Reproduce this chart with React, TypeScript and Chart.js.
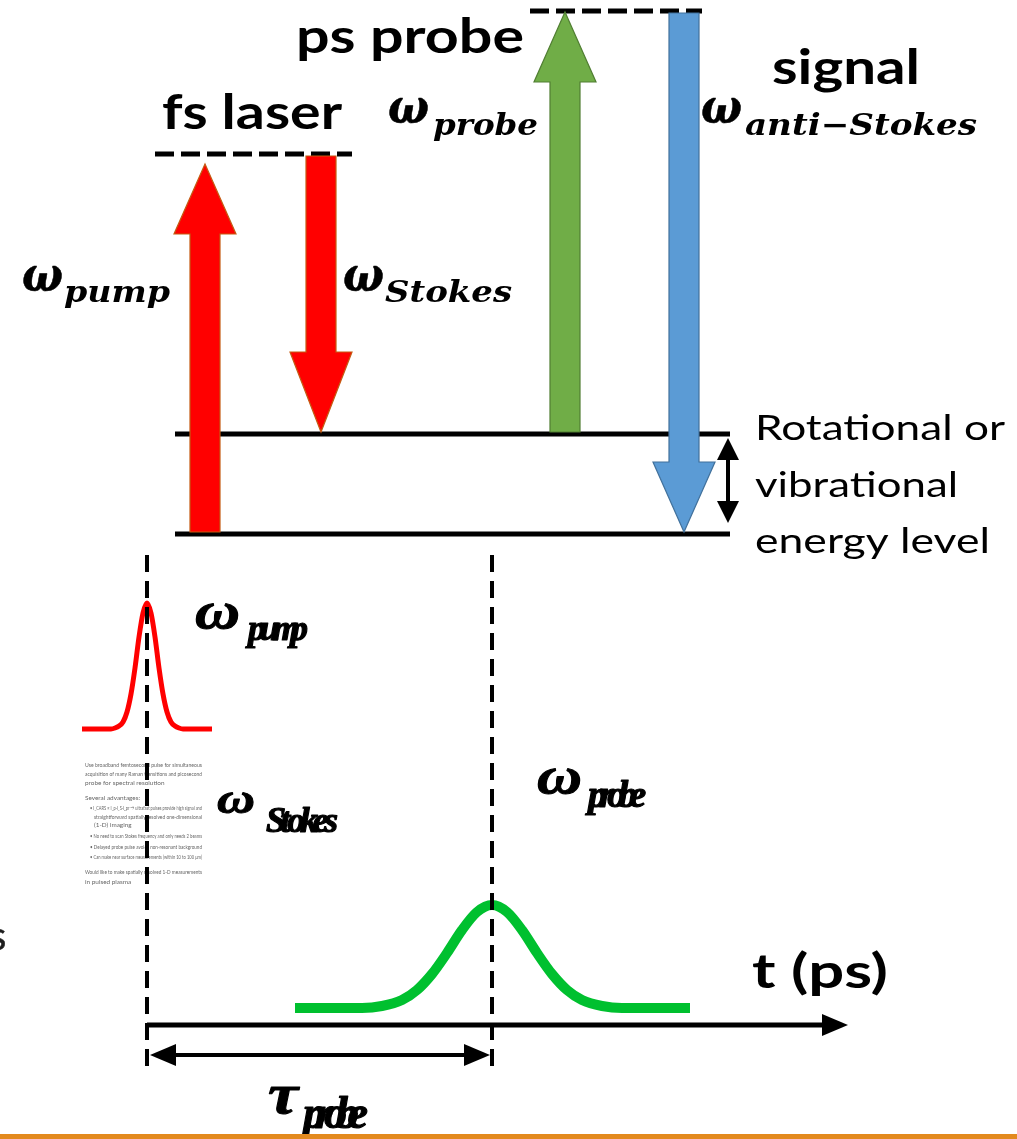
import React, { useEffect, useRef } from 'react';
import { Chart, registerables } from 'chart.js';

Chart.register(...registerables);

const W = 1017;
const H = 1139;

// Energy levels of the molecule (diagram units, y grows downward)
const levelY = [534, 434];
const levelStart = 175;
const levelEnd = 730;

// Virtual levels reached by the fs pump and by the ps probe
const virtualY = [154, 11];
const virtualStart = [155, 530];
const virtualEnd = [352, 702];

// Beams of the energy diagram: x position, start level, end level
const beamNames = ['pump', 'Stokes', 'probe', 'anti\u2212Stokes'];
const beamX = [205, 321, 565, 684];
const beamFrom = [532, 156, 432, 13];
const beamTo = [164, 432, 12, 532];

// Timing diagram
const pumpTime = 147;
const probeTime = 492;
const markerTop = 555;
const markerBottom = 1070;
const timeAxisY = 1025;
const timeAxisEnd = 848;
const delayY = 1055;

// Sampled pump pulse envelope (fs)
const pumpPulseX = [82, 111, 115, 119, 123, 127, 131, 135, 139, 143, 147, 151, 155, 159, 163, 167, 171, 175, 179, 183, 212];
const pumpPulseY = [729, 729, 728, 726, 722, 712, 694, 668, 637, 613, 603, 613, 637, 668, 694, 712, 722, 726, 728, 729, 729];

// Sampled probe pulse envelope (ps)
const probePulseX = [295, 362, 382, 402, 417, 432, 447, 462, 477, 492, 507, 522, 537, 552, 567, 582, 602, 622, 690];
const probePulseY = [1008, 1008, 1006, 1000, 990, 974, 953, 930, 912, 905, 912, 930, 953, 974, 990, 1000, 1006, 1008, 1008];

// Slide notes printed under the pump pulse
const noteLines = [
  'Use broadband femtosecond pulse for simultaneous',
  'acquisition of many Raman transitions and picosecond',
  'probe for spectral resolution',
  'Several advantages:',
  '\u2022 I_CARS \u221D I_p\u00B7I_S\u00B7I_pr \u2192 ultrafast pulses provide high signal and',
  'straightforward spatially resolved one-dimensional',
  '(1-D) imaging',
  '\u2022 No need to scan Stokes frequency and only needs 2 beams',
  '\u2022 Delayed probe pulse avoids non-resonant background',
  '\u2022 Can make near surface measurements (within 10 to 100 \u03BCm)',
  'Would like to make spatially resolved 1-D measurements',
  'in pulsed plasma',
];

const BEAM_FILL = ['#FF0000', '#FF0000', '#70AD47', '#5B9BD5'];
const BEAM_EDGE = ['#C55A11', '#C55A11', '#507E32', '#41719C'];

const pts = (xs: number[], ys: number[]) => xs.map((x, i) => ({ x, y: ys[i] }));

function fitText(
  ctx: CanvasRenderingContext2D,
  text: string,
  font: string,
  left: number,
  baseline: number,
  width: number,
  color: string,
  stroke = 0,
) {
  ctx.font = font;
  const natural = ctx.measureText(text).width;
  const sx = width > 0 ? width / natural : 1;
  ctx.save();
  ctx.translate(left, baseline);
  ctx.scale(sx, 1);
  ctx.fillStyle = color;
  ctx.fillText(text, 0, 0);
  if (stroke > 0) {
    ctx.lineWidth = stroke;
    ctx.strokeStyle = color;
    ctx.lineJoin = 'round';
    ctx.strokeText(text, 0, 0);
  }
  ctx.restore();
}

// Letters packed tightly so that they overlap, fitted into a given width
function packedText(
  ctx: CanvasRenderingContext2D,
  text: string,
  font: string,
  left: number,
  baseline: number,
  width: number,
  color: string,
  stroke = 0,
) {
  ctx.font = font;
  const chars = Array.from(text);
  const widths = chars.map((c) => ctx.measureText(c).width);
  const last = widths[widths.length - 1];
  const lead = widths.slice(0, -1).reduce((a, b) => a + b, 0);
  const k = lead > 0 ? (width - last) / lead : 1;
  let x = left;
  ctx.save();
  ctx.fillStyle = color;
  ctx.strokeStyle = color;
  ctx.lineWidth = stroke;
  ctx.lineJoin = 'round';
  chars.forEach((c, i) => {
    ctx.fillText(c, x, baseline);
    if (stroke > 0) ctx.strokeText(c, x, baseline);
    x += widths[i] * k;
  });
  ctx.restore();
}

function triangle(
  ctx: CanvasRenderingContext2D,
  tipX: number,
  tipY: number,
  dx: number,
  dy: number,
  len: number,
  half: number,
  color: string,
) {
  const bx = tipX - dx * len;
  const by = tipY - dy * len;
  ctx.beginPath();
  ctx.moveTo(tipX, tipY);
  ctx.lineTo(bx - dy * half, by + dx * half);
  ctx.lineTo(bx + dy * half, by - dx * half);
  ctx.closePath();
  ctx.fillStyle = color;
  ctx.fill();
}

const notesPlugin = {
  id: 'slideNotes',
  beforeDatasetsDraw(chart: any) {
    const { ctx, scales } = chart;
    const sx = (v: number) => scales.x.getPixelForValue(v);
    const sy = (v: number) => scales.y.getPixelForValue(v);
    const lineY = [767, 776, 785, 800, 810, 819, 827, 838, 849, 859, 874, 884];
    const indent = [0, 0, 0, 0, 5, 9, 9, 5, 5, 5, 0, 0];
    ctx.save();
    ctx.filter = 'blur(0.7px)';
    noteLines.forEach((t, i) => {
      const full = t.length > 40;
      fitText(
        ctx,
        t,
        '6.4px Lato',
        sx(85 + indent[i]),
        sy(lineY[i]),
        full ? 117 - indent[i] : 0,
        '#666666',
      );
    });
    ctx.restore();
  },
};

const diagramPlugin = {
  id: 'diagramMarks',
  afterDatasetsDraw(chart: any) {
    const { ctx, scales } = chart;
    const sx = (v: number) => scales.x.getPixelForValue(v);
    const sy = (v: number) => scales.y.getPixelForValue(v);

    // Block arrows of the beams
    const shaftHalf = 15;
    const headHalf = 31;
    const headLen = [70, 80, 70, 70];
    beamX.forEach((bx, i) => {
      const x = sx(bx);
      const y0 = sy(beamFrom[i]);
      const y1 = sy(beamTo[i]);
      const dir = Math.sign(y1 - y0);
      const yb = y1 - dir * headLen[i];
      ctx.save();
      ctx.beginPath();
      ctx.moveTo(x - shaftHalf, y0);
      ctx.lineTo(x - shaftHalf, yb);
      ctx.lineTo(x - headHalf, yb);
      ctx.lineTo(x, y1);
      ctx.lineTo(x + headHalf, yb);
      ctx.lineTo(x + shaftHalf, yb);
      ctx.lineTo(x + shaftHalf, y0);
      ctx.closePath();
      ctx.fillStyle = BEAM_FILL[i];
      ctx.fill();
      ctx.lineWidth = 1.2;
      ctx.strokeStyle = BEAM_EDGE[i];
      ctx.stroke();
      ctx.restore();
    });

    // Arrow heads of the level spacing, time axis and delay
    triangle(ctx, sx(728), sy(438), 0, -1, 22, 11, '#000');
    triangle(ctx, sx(728), sy(523), 0, 1, 22, 11, '#000');
    triangle(ctx, sx(timeAxisEnd), sy(timeAxisY), 1, 0, 26, 11, '#000');
    triangle(ctx, sx(pumpTime + 3), sy(delayY), -1, 0, 26, 11, '#000');
    triangle(ctx, sx(probeTime - 2), sy(delayY), 1, 0, 26, 11, '#000');

    // Bold captions
    const bold = (s: number) => `bold ${s}px Lato`;
    fitText(ctx, 'fs laser', bold(48), sx(162), sy(129), 180, '#000');
    fitText(ctx, 'ps probe', bold(48), sx(296), sy(53), 228, '#000');
    fitText(ctx, 'signal', bold(48), sx(772), sy(84), 148, '#000');
    fitText(ctx, 't (ps)', bold(48), sx(752), sy(988), 136, '#000');

    // Level annotation
    const reg = '34px Lato';
    fitText(ctx, 'Rotational or', reg, sx(755), sy(440), 250, '#000');
    fitText(ctx, 'vibrational', reg, sx(755), sy(497), 203, '#000');
    fitText(ctx, 'energy level', reg, sx(755), sy(553), 235, '#000');

    // Beam frequencies in the energy diagram
    const omega = 'bold italic 48px "DejaVu Serif"';
    const sub = 'bold italic 30px "DejaVu Serif"';
    const topLabels = [
      { w: 22, s: 64, sw: 106, wb: 291, sb: 302 },
      { w: 343, s: 385, sw: 127, wb: 291, sb: 302 },
      { w: 388, s: 433, sw: 105, wb: 123, sb: 135 },
      { w: 701, s: 745, sw: 232, wb: 123, sb: 135 },
    ];
    topLabels.forEach((l, i) => {
      fitText(ctx, '\u03C9', omega, sx(l.w), sy(l.wb), 41, '#000', 0.6);
      fitText(ctx, beamNames[i], sub, sx(l.s), sy(l.sb), l.sw, '#000');
    });

    // Pulse labels of the timing diagram
    const serif = (s: number) => `bold italic ${s}px "Liberation Serif"`;
    fitText(ctx, '\u03C9', serif(52), sx(195), sy(628), 45, '#000', 1);
    packedText(ctx, beamNames[0], serif(36), sx(248), sy(640), 60, '#000', 1.2);
    fitText(ctx, '\u03C9', serif(42), sx(217), sy(813), 38, '#000', 1);
    packedText(ctx, beamNames[1], serif(36), sx(266), sy(832), 72, '#000', 1.2);
    fitText(ctx, '\u03C9', serif(52), sx(537), sy(793), 45, '#000', 1);
    packedText(ctx, beamNames[2], serif(38), sx(588), sy(807), 58, '#000', 1.2);
    fitText(ctx, '\u03C4', serif(58), sx(268), sy(1113), 30, '#000', 1);
    packedText(ctx, beamNames[2], serif(46), sx(303), sy(1128), 65, '#000', 1.2);

    // Clipped letter at the left edge
    fitText(ctx, 's', '40px Lato', sx(-11), sy(950), 0, '#1e1e1e', 0.5);

    // Slide footer rule
    ctx.save();
    ctx.fillStyle = '#E38A1E';
    ctx.fillRect(sx(0), sy(1134), sx(W) - sx(0), sy(H) - sy(1134));
    ctx.restore();
  },
};

export default function App() {
  const canvasRef = useRef<HTMLCanvasElement | null>(null);

  useEffect(() => {
    const canvas = canvasRef.current;
    if (!canvas) return;

    const solid = (data: any[], width: number, order = 5) => ({
      data,
      borderColor: '#000',
      borderWidth: width,
      pointRadius: 0,
      fill: false,
      clip: false as any,
      order,
      borderCapStyle: 'butt' as const,
    });

    const datasets: any[] = [];

    levelY.forEach((y) => {
      datasets.push(solid([{ x: levelStart, y }, { x: levelEnd, y }], 5));
    });
    virtualY.forEach((y, i) => {
      datasets.push({
        ...solid([{ x: virtualStart[i], y }, { x: virtualEnd[i], y }], 5),
        borderDash: [19, 7],
      });
    });

    // Pulses (drawn below the time markers)
    datasets.push({
      data: pts(pumpPulseX, pumpPulseY),
      borderColor: '#FF0000',
      borderWidth: 5,
      pointRadius: 0,
      cubicInterpolationMode: 'monotone',
      clip: false,
      order: 9,
    });
    datasets.push({
      data: pts(probePulseX, probePulseY),
      borderColor: '#00C02F',
      borderWidth: 10,
      pointRadius: 0,
      cubicInterpolationMode: 'monotone',
      clip: false,
      order: 9,
    });

    // Time markers at the pump and probe arrival
    [pumpTime, probeTime].forEach((t) => {
      datasets.push({
        ...solid([{ x: t, y: markerTop }, { x: t, y: markerBottom }], 4, 3),
        borderDash: [17, 9],
      });
    });

    // Time axis, delay span and level spacing
    datasets.push(solid([{ x: pumpTime, y: timeAxisY }, { x: timeAxisEnd - 22, y: timeAxisY }], 5));
    datasets.push(solid([{ x: pumpTime + 22, y: delayY }, { x: probeTime - 22, y: delayY }], 4));
    datasets.push(solid([{ x: 728, y: 456 }, { x: 728, y: 505 }], 4));

    const chart = new Chart(canvas, {
      type: 'line',
      data: { datasets },
      options: {
        animation: false,
        responsive: false,
        devicePixelRatio: 1,
        layout: { padding: 0 },
        scales: {
          x: { type: 'linear', min: 0, max: W, display: false },
          y: { type: 'linear', min: 0, max: H, reverse: true, display: false },
        },
        plugins: {
          legend: { display: false },
          tooltip: { enabled: false },
        },
        events: [],
      },
      plugins: [notesPlugin, diagramPlugin],
    });

    return () => chart.destroy();
  }, []);

  return (
    <div style={{ position: 'fixed', left: 0, top: 0, width: W, height: H, background: '#fff' }}>
      <canvas ref={canvasRef} width={W} height={H} style={{ display: 'block', width: W, height: H }} />
    </div>
  );
}
